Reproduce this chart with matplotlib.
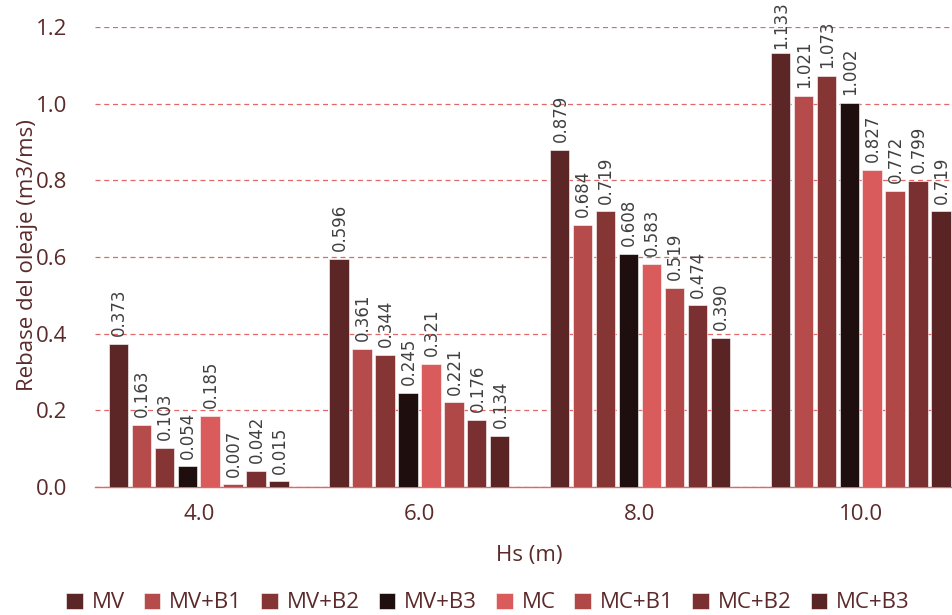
import matplotlib
matplotlib.use("Agg")
import matplotlib.pyplot as plt
import numpy as np

categories = ["4.0", "6.0", "8.0", "10.0"]
series_names = ["MV", "MV+B1", "MV+B2", "MV+B3", "MC", "MC+B1", "MC+B2", "MC+B3"]
MV = [0.373, 0.596, 0.879, 1.133]
MV_B1 = [0.163, 0.361, 0.684, 1.021]
MV_B2 = [0.103, 0.344, 0.719, 1.073]
MV_B3 = [0.054, 0.245, 0.608, 1.002]
MC = [0.185, 0.321, 0.583, 0.827]
MC_B1 = [0.007, 0.221, 0.519, 0.772]
MC_B2 = [0.042, 0.176, 0.474, 0.799]
MC_B3 = [0.015, 0.134, 0.390, 0.719]
values = [MV, MV_B1, MV_B2, MV_B3, MC, MC_B1, MC_B2, MC_B3]
colors = ["#5c2626", "#b54b4b", "#863535", "#1f0e0e", "#d95b5b", "#b04848", "#7a3030", "#5a2424"]

plt.rcParams['font.family'] = ['Open Sans', 'DejaVu Sans']
text_col = "#5c2a2a"

fig = plt.figure(figsize=(9.53, 6.15), dpi=100)
ax = fig.add_axes([95/953, 1-487/615, 1 - 95/953 + 0.012, (487-27)/615])

x = np.arange(len(categories))
step = 0.104
width = 0.088
n = len(values)
labels = []
for i, (vals, c, name) in enumerate(zip(values, colors, series_names)):
    pos = x + (i - (n-1)/2) * step
    ax.bar(pos, vals, width=width, color=c, label=name, zorder=3,
           edgecolor="white", linewidth=0.4)
    for p, v in zip(pos, vals):
        t = ax.annotate(f"{v:.3f}", xy=(p, v), xytext=(0.5, 5.5), textcoords="offset points",
                        rotation=90, ha="center", va="bottom", fontsize=12,
                        color="#404040", zorder=4, family="DejaVu Sans",
                        annotation_clip=False)
        labels.append(t)

ax.set_ylim(0, 1.2)
ax.set_xlim(-0.47, 3.47)
ticks = np.arange(0, 1.21, 0.2)
ax.set_yticks(ticks)
ax.set_yticklabels([f"{t:.1f}" for t in ticks])
ax.set_xticks(x)
ax.set_xticklabels(categories)
ax.tick_params(axis="both", length=0, labelsize=16, colors=text_col)
ax.tick_params(axis="y", pad=20)
ax.tick_params(axis="x", pad=12)
ax.yaxis.grid(True, linestyle=(0, (4, 3)), color="#e06868", linewidth=0.9, zorder=0)
ax.set_axisbelow(True)
for s in ["top", "right", "left"]:
    ax.spines[s].set_visible(False)
ax.spines["bottom"].set_color("#e06868")
ax.spines["bottom"].set_linewidth(1.0)

ax.set_ylabel("Rebase del oleaje (m3/ms)", fontsize=16, color=text_col)
ax.yaxis.set_label_coords(-0.065, 0.505)
ax.set_xlabel("Hs (m)", fontsize=16, color=text_col)
ax.xaxis.set_label_coords(0.5, -0.126)

leg = fig.legend(loc="center", bbox_to_anchor=(0.512, 1 - 603/615), ncol=8, frameon=False,
                 fontsize=16, handlelength=0.75, handleheight=0.75, handletextpad=0.4,
                 columnspacing=0.85, borderaxespad=0)
for t in leg.get_texts():
    t.set_color(text_col)

# keep labels inside the figure (shift down if they overflow the top)
fig.canvas.draw()
r = fig.canvas.get_renderer()
H = fig.bbox.height
for t in labels:
    bb = t.get_window_extent(r)
    if bb.y1 > H - 1:
        dy_pts = (bb.y1 - (H - 1)) * 72 / fig.dpi
        ox, oy = t.xyann
        t.xyann = (ox, oy - dy_pts)

fig.savefig("out.png", dpi=100)
